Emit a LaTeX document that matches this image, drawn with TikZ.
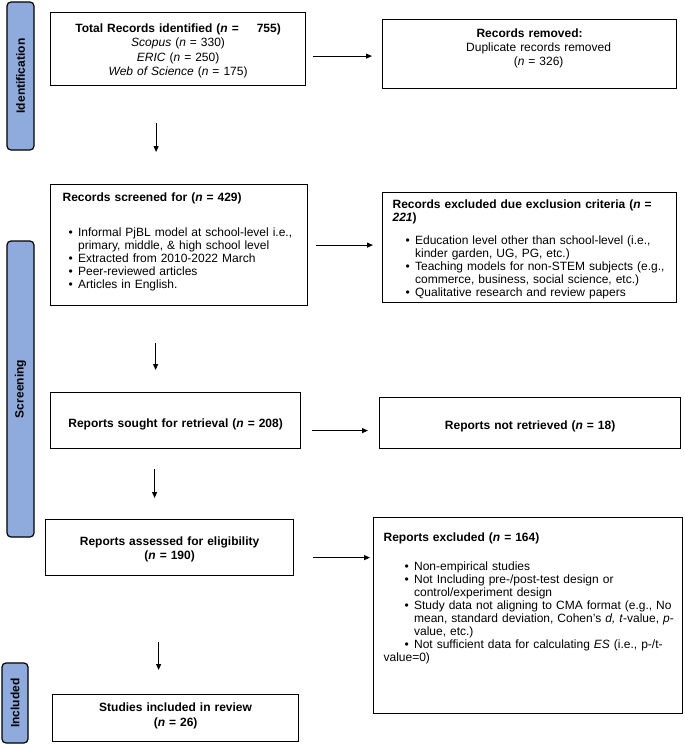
\documentclass[tikz,border=0pt]{standalone}
\usepackage{fontspec}
\setmainfont{Liberation Sans}
\usetikzlibrary{arrows.meta}

\definecolor{phaseblue}{HTML}{8FAADC}

\newcommand{\flowitem}[2][12pt]{\par\hangindent=\dimexpr#1+9.5pt\relax\hangafter=1\hspace*{#1}\makebox[9.5pt][l]{\textbullet}#2}

\begin{document}
\begin{tikzpicture}[
                x=1pt, y=-1pt,
                recordnode/.style = {rectangle, draw, line width=1.2pt, anchor=north west, inner xsep=12pt, inner ysep=0pt, font=\fontsize{12}{13}\selectfont},
                phasenode/.style = {rectangle, rounded corners=4pt, draw, line width=1.2pt, fill=phaseblue, rotate=90, inner sep=0pt, font=\bfseries\fontsize{12}{14}\selectfont},
                flowarrow/.style = {-{Triangle[length=6pt,width=5pt]}, line width=1pt}
        ]
        \useasboundingbox (0,0) rectangle (685,745);

        % phases
        \node[phasenode, minimum width=148pt, minimum height=27pt] (identphase) at (20.5,76) {Identification};
        \node[phasenode, minimum width=296pt, minimum height=27pt] (screenphase) at (20.5,389) {Screening};
        \node[phasenode, minimum width=80pt, minimum height=26pt] (inclphase) at (15,703) {Included};

        % records
        \node[recordnode, align=center, text width=231pt, text height=20pt, text depth=53pt] (total) at (50,12) {
                \textbf{Total Records identified (\textit{n} =\hspace{18pt}755)}\\[1.3pt]
                \textit{Scopus} (\textit{n} = 330)\\[1.3pt]
                \textit{ERIC} (\textit{n} = 250)\\[1.3pt]
                \textit{Web of Science} (\textit{n} = 175)};
        \node[recordnode, align=center, text width=270pt, text height=18pt, text depth=51pt] (removed) at (382,19) {
                \textbf{Records removed:}\\[1pt]
                \hspace*{18pt}Duplicate records removed\\[1pt]
                \hspace*{18pt}(\textit{n} = 326)};
        \node[recordnode, align=left, text width=233pt, text height=17pt, text depth=104pt] (screened) at (50,184) {
                \textbf{Records screened for (\textit{n} = 429)}\par\vspace{22pt}
                \flowitem[6pt]{Informal PjBL model at school-level i.e.,\newline primary, middle, \& high school level}
                \flowitem[6pt]{Extracted from 2010-2022 March}
                \flowitem[6pt]{Peer-reviewed articles}
                \flowitem[6pt]{Articles in English.}};
        \node[recordnode, align=left, inner xsep=10pt, text width=274pt, text height=16pt, text depth=94pt] (excluded) at (382,192) {
                \textbf{Records excluded due exclusion criteria (\textit{n} =}\\
                \textbf{\textit{221})}\par\vspace{10pt}
                \flowitem[13pt]{Education level other than school-level (i.e.,\newline kinder garden, UG, PG, etc.)}
                \flowitem[13pt]{Teaching models for non-STEM subjects (e.g.,\newline commerce, business, social science, etc.)}
                \flowitem[13pt]{Qualitative research and review papers}};
        \node[recordnode, align=center, text width=226pt, text height=35pt, text depth=21pt] (sought) at (50,392) {
                \textbf{Reports sought for retrieval (\textit{n} = 208)}};
        \node[recordnode, align=center, text width=277pt, text height=32pt, text depth=19pt] (notretrieved) at (379,397) {
                \textbf{Reports not retrieved (\textit{n} = 18)}};
        \node[recordnode, align=center, text width=224pt, text height=26pt, text depth=30pt] (assessed) at (45,519) {
                \textbf{Reports assessed for eligibility}\\[1pt]
                \textbf{(\textit{n} = 190)}};
        \node[recordnode, align=left, inner xsep=10pt, text width=289pt, text height=24pt, text depth=172pt] (reportsexcluded) at (373,517) {
                \textbf{Reports excluded (\textit{n} = 164)}\par\vspace{16pt}
                \flowitem[21pt]{Non-empirical studies}
                \flowitem[21pt]{Not Including pre-/post-test design or\newline control/experiment design}
                \flowitem[21pt]{Study data not aligning to CMA format (e.g., No\newline \mbox{mean, standard deviation, Cohen’s \textit{d, t}-value, \textit{p}-}\newline value, etc.)}
                \flowitem[21pt]{Not sufficient data for calculating \textit{ES} (i.e., p-/t-\newline value=0)}};
        \node[recordnode, align=center, text width=222pt, text height=17pt, text depth=30pt] (included) at (52,694) {
                \textbf{Studies included in review}\\[2pt]
                \textbf{(\textit{n} = 26)}};

        % flow down
        \draw[flowarrow, shorten <=37pt, shorten >=32pt] ([xshift=-22pt]total.south) -- ([xshift=-23pt]screened.north);
        \draw[flowarrow, shorten <=37pt, shorten >=22pt] ([xshift=-23.5pt]screened.south) -- ([xshift=-20pt]sought.north);
        \draw[flowarrow, shorten <=20pt, shorten >=21pt] ([xshift=-21pt]sought.south) -- ([xshift=-15pt]assessed.north);
        \draw[flowarrow, shorten <=66pt, shorten >=24pt] ([xshift=-11pt]assessed.south) -- ([xshift=-17pt]included.north);

        % flow right
        \draw[flowarrow, shorten <=7pt, shorten >=10pt] ([yshift=-2pt]total.east |- removed.west) -- ([yshift=-2pt]removed.west);
        \draw[flowarrow, shorten <=8pt, shorten >=9pt] (screened.east) -- (screened.east -| excluded.west);
        \draw[flowarrow, shorten <=11pt, shorten >=11pt] ([yshift=-10pt]sought.east) -- ([yshift=-10pt]sought.east -| notretrieved.west);
        \draw[flowarrow, shorten <=19pt, shorten >=3pt] ([yshift=-10pt]assessed.east) -- ([yshift=-10pt]assessed.east -| reportsexcluded.west);
\end{tikzpicture}
\end{document}
